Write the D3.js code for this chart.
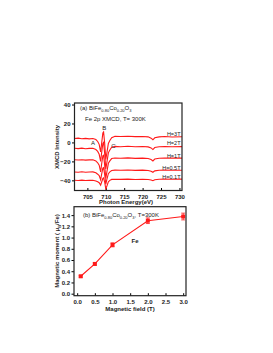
<!DOCTYPE html>
<html>
<head>
<meta charset="utf-8">
<script src="https://cdn.jsdelivr.net/npm/d3@7"></script>
<style>
	body { margin: 0; background: #fff; }
	svg { font-family: "Liberation Sans", Arial, sans-serif; }
	.tick text { font-size: 6px; font-weight: bold; fill: #222; }
</style>
</head>
<body>
<svg id="chart" width="273" height="353"></svg>
<script>
// photon energy grid (eV) for the XMCD spectra
const energy = [701.5, 702.5, 703.5, 704.5, 705.5, 706.5, 707.3, 707.8, 708.2, 708.6, 708.9, 709.2, 709.4, 709.7, 710.0, 710.3, 710.7, 711.1, 711.6, 712.5, 714, 716, 718, 720, 721.5, 722.3, 722.8, 723.3, 724.5, 726, 728, 730.7];

// XMCD intensity (offset), one array per field
const xmcd3T = [4.2, 4.5, 3.9, 4.3, 3.8, 4.1, 3.0, 1.0, -2, -10, 0, 10, 11, -1, -18, -11, -1, 2, 5, 6.5, 6.3, 6.6, 6.1, 6.3, 5.9, 4.5, 2.8, 4.9, 5.9, 6.2, 5.8, 6.0];
const xmcd2T = [-6.2, -6.5, -6.0, -6.6, -6.3, -6.2, -7.5, -9.5, -12.5, -20, -10, -1, 0, -12, -28, -21, -11, -8, -5, -4.2, -4.5, -4.1, -4.6, -4.3, -4.7, -5.8, -7.5, -5.4, -4.6, -4.3, -4.5, -4.4];
const xmcd1T = [-18.3, -18.6, -18.2, -18.7, -18.4, -18.3, -19.5, -21.5, -24, -31, -22, -14, -13.5, -24, -38, -31, -22, -19.5, -17, -16.4, -16.7, -16.3, -16.8, -16.5, -16.9, -18, -19.5, -17.5, -16.7, -16.5, -16.6, -16.6];
const xmcd05T = [-31.2, -31.5, -31.0, -31.4, -31.2, -31.1, -32, -33.5, -35, -39.5, -33, -27, -26.5, -34, -44, -39, -33, -31, -29.6, -29.2, -29.4, -29.1, -29.5, -29.2, -29.6, -30.4, -31.5, -30, -29.3, -29.2, -29.4, -29.3];
const xmcd01T = [-39.9, -40.2, -39.8, -40.1, -40.0, -39.9, -40.6, -41.5, -42.5, -45, -41.5, -38, -37.5, -42, -49, -46, -41.5, -40, -39, -38.8, -39, -38.7, -39.1, -38.8, -39.1, -39.6, -40.4, -39.3, -38.8, -38.7, -38.9, -38.7];
const fieldLabels = ["H=3T", "H=2T", "H=1T", "H=0.5T", "H=0.1T"];

const energyTicks = [705, 710, 715, 720, 725, 730];
const xmcdTicks = [40, 20, 0, -20, -40];

// magnetic moment vs field
const field = [0.1, 0.5, 1.0, 2.0, 3.0];
const moment = [0.31, 0.53, 0.87, 1.30, 1.375];
const momentErr = [0.015, 0.02, 0.035, 0.05, 0.06];
const fieldTicks = [0, 0.5, 1, 1.5, 2, 2.5, 3];
const momentTicks = [0, 0.2, 0.4, 0.6, 0.8, 1.0, 1.2, 1.4];

const svg = d3.select("#chart");
const RED = "#ff1a1a";

// ---------- panel (a) ----------
const xA = d3.scaleLinear().domain([701.5, 730.7]).range([74.5, 182]);
const yA = d3.scaleLinear().domain([-50.7, 41.6]).range([190.5, 103]);

svg.append("g")
	.attr("transform", "translate(0,190.5)")
	.call(d3.axisBottom(xA).tickValues(energyTicks).tickSize(-2.5).tickPadding(4).tickFormat(d3.format("d")))
	.call(g => g.select(".domain").remove());
svg.append("g")
	.attr("transform", "translate(74.5,0)")
	.call(d3.axisLeft(yA).tickValues(xmcdTicks).tickSize(2.5).tickPadding(1.5))
	.call(g => g.select(".domain").remove());

const seriesA = [xmcd3T, xmcd2T, xmcd1T, xmcd05T, xmcd01T];
const lineA = d3.line().x((d, i) => xA(energy[i])).y(d => yA(d));
svg.append("g").selectAll("path")
	.data(seriesA)
	.enter().append("path")
	.attr("d", lineA)
	.attr("fill", "none")
	.attr("stroke", RED)
	.attr("stroke-width", 1.1);

svg.append("rect")
	.attr("x", 74.5).attr("y", 103).attr("width", 107.5).attr("height", 87.5)
	.attr("fill", "none").attr("stroke", "#222").attr("stroke-width", 1.2);

// field labels at right end of each curve
const labelY = [135.5, 145, 158.3, 169.5, 178.5];
svg.append("g").selectAll("text")
	.data(fieldLabels)
	.enter().append("text")
	.attr("x", 180.5)
	.attr("y", (d, i) => labelY[i])
	.attr("text-anchor", "end")
	.attr("font-size", 5.5)
	.attr("fill", "#222")
	.text(d => d);

function formula(sel, prefix, suffix) {
	const t = sel.append("text").attr("fill", "#222");
	t.append("tspan").text(prefix + "BiFe");
	t.append("tspan").attr("font-size", 4).attr("dy", 1.5).text("0.80");
	t.append("tspan").attr("dy", -1.5).text("Co");
	t.append("tspan").attr("font-size", 4).attr("dy", 1.5).text("0.20");
	t.append("tspan").attr("dy", -1.5).text("O");
	t.append("tspan").attr("font-size", 4).attr("dy", 1.5).text("3");
	if (suffix) t.append("tspan").attr("dy", -1.5).text(suffix);
	return t;
}

formula(svg, "(a) ", "").attr("x", 80).attr("y", 110).attr("font-size", 6);
svg.append("text").attr("x", 85).attr("y", 121).attr("font-size", 6).attr("fill", "#222")
	.text("Fe 2p XMCD, T= 300K");

[["A", 93, 145], ["B", 104.3, 130], ["C", 113.5, 147.5]].forEach(d => {
	svg.append("text").attr("x", d[1]).attr("y", d[2]).attr("text-anchor", "middle")
		.attr("font-size", 6).attr("fill", "#222").text(d[0]);
});

svg.append("text")
	.attr("transform", "translate(59,147) rotate(-90)")
	.attr("text-anchor", "middle").attr("font-size", 6).attr("font-weight", "bold").attr("fill", "#222")
	.text("XMCD Intensity");
svg.append("text")
	.attr("x", 126).attr("y", 203.5)
	.attr("text-anchor", "middle").attr("font-size", 6).attr("font-weight", "bold").attr("fill", "#222")
	.text("Photon Energy(eV)");

// ---------- panel (b) ----------
const xB = d3.scaleLinear().domain([-0.09, 3.08]).range([74, 186]);
const yB = d3.scaleLinear().domain([-0.036, 1.55]).range([295.7, 206.7]);

svg.append("g")
	.attr("transform", "translate(0,295.7)")
	.call(d3.axisBottom(xB).tickValues(fieldTicks).tickSize(-2.5).tickPadding(4).tickFormat(d3.format(".1f")))
	.call(g => g.select(".domain").remove());
svg.append("g")
	.attr("transform", "translate(74,0)")
	.call(d3.axisLeft(yB).tickValues(momentTicks).tickSize(2.5).tickPadding(1.5).tickFormat(d3.format(".1f")))
	.call(g => g.select(".domain").remove());

const pts = field.map((f, i) => ({ f: f, m: moment[i], e: momentErr[i] }));

svg.append("path")
	.datum(pts)
	.attr("d", d3.line().x(d => xB(d.f)).y(d => yB(d.m)))
	.attr("fill", "none").attr("stroke", RED).attr("stroke-width", 1.1);

const eb = svg.append("g").selectAll("g").data(pts).enter().append("g");
eb.append("line")
	.attr("x1", d => xB(d.f)).attr("x2", d => xB(d.f))
	.attr("y1", d => yB(d.m - d.e)).attr("y2", d => yB(d.m + d.e))
	.attr("stroke", RED).attr("stroke-width", 0.8);
[-1, 1].forEach(s => {
	eb.append("line")
		.attr("x1", d => xB(d.f) - 2).attr("x2", d => xB(d.f) + 2)
		.attr("y1", d => yB(d.m + s * d.e)).attr("y2", d => yB(d.m + s * d.e))
		.attr("stroke", RED).attr("stroke-width", 0.8);
});
eb.append("rect")
	.attr("x", d => xB(d.f) - 2).attr("y", d => yB(d.m) - 2)
	.attr("width", 4).attr("height", 4)
	.attr("fill", RED);

svg.append("rect")
	.attr("x", 74).attr("y", 206.7).attr("width", 112).attr("height", 89)
	.attr("fill", "none").attr("stroke", "#222").attr("stroke-width", 1.2);

formula(svg, "(b)  ", ", T=300K").attr("x", 83).attr("y", 217).attr("font-size", 6);
svg.append("text").attr("x", 135).attr("y", 243).attr("text-anchor", "middle")
	.attr("font-size", 6).attr("font-weight", "bold").attr("fill", "#222").text("Fe");

const yl = svg.append("text")
	.attr("transform", "translate(59,251) rotate(-90)")
	.attr("text-anchor", "middle").attr("font-size", 6).attr("font-weight", "bold").attr("fill", "#222");
yl.append("tspan").text("Magnetic moment ( \u03bc");
yl.append("tspan").attr("font-size", 4).attr("dy", 1.5).text("B");
yl.append("tspan").attr("dy", -1.5).text("/Fe)");
svg.append("text")
	.attr("x", 130).attr("y", 310.5)
	.attr("text-anchor", "middle").attr("font-size", 6).attr("font-weight", "bold").attr("fill", "#222")
	.text("Magnetic field (T)");
</script>
</body>
</html>
